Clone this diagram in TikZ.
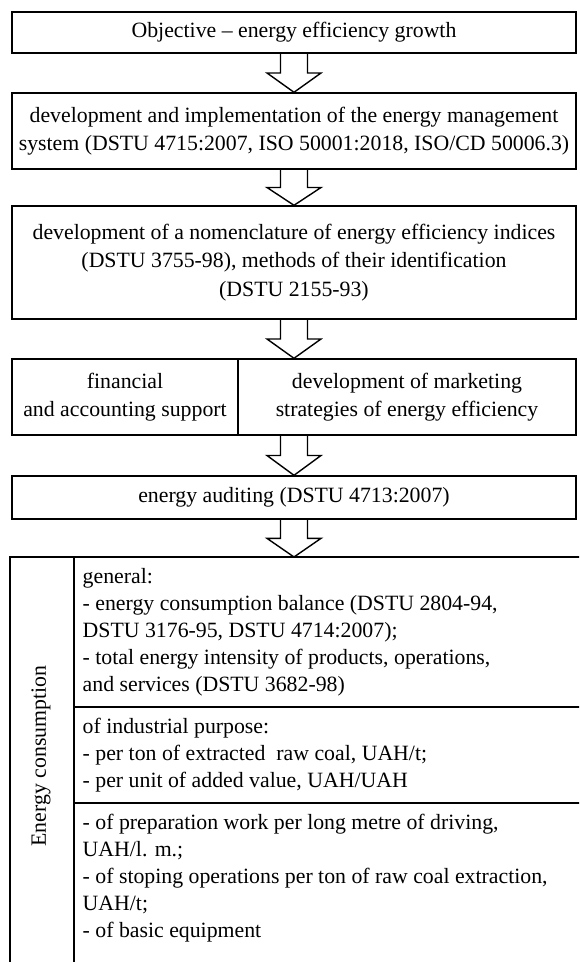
\documentclass[tikz,border=0pt]{standalone}
\usepackage{fontspec}
\setmainfont{Liberation Serif}
\usetikzlibrary{calc}

% hollow block arrow from one anchor down to another
\newcommand{\blockarrow}[2]{%
  \draw let \p1=(#1), \p2=(#2), \n1={0.5*(\y1+\y2)} in
    (\x1-6.75pt,\y1) -- (\x1-6.75pt,\n1) -- (\x1-13.5pt,\n1) -- (\x2,\y2)
    -- (\x1+13.5pt,\n1) -- (\x1+6.75pt,\n1) -- (\x1+6.75pt,\y1);}

\begin{document}
\begin{tikzpicture}[x=0.5pt, y=-0.5pt, line width=0.7pt,
    stage/.style={draw, minimum width=282pt, align=center, inner sep=2pt,
      font=\fontsize{10.9}{14.2}\selectfont},
    item/.style={align=left, inner sep=0pt, anchor=west,
      font=\fontsize{10.9}{13.5}\selectfont}]
  \useasboundingbox (0,0) rectangle (579,962);
  \clip (0,0) rectangle (579,962);

  \node[stage, minimum height=20.5pt] (goal) at (294,32.5) {Objective -- energy efficiency growth};
  \node[stage, minimum height=38pt] (ems) at (294,131) {development and implementation of the energy management\\system (DSTU 4715:2007, ISO 50001:2018, ISO/CD 50006.3)};
  \node[stage, minimum height=56.5pt] (index) at (294,262.5) {development of a nomenclature of energy efficiency indices\\(DSTU 3755-98), methods of their identification\\(DSTU 2155-93)};
  \node[stage, minimum width=113pt, minimum height=38pt] (fin) at (125,397) {financial\\and accounting support};
  \node[stage, minimum width=169pt, minimum height=38pt] (market) at (407,397) {development of marketing\\strategies of energy efficiency};
  \node[stage, minimum height=21.5pt] (audit) at (294,497.5) {energy auditing (DSTU 4713:2007)};
  \coordinate (table) at (294,557);

  \blockarrow{goal.south}{ems.north}
  \blockarrow{ems.south}{index.north}
  \blockarrow{index.south}{index.south |- market.north}
  \blockarrow{index.south |- market.south}{audit.north}
  \blockarrow{audit.south}{table}

  % table of indices
  \draw (600,557) -- (10,557) -- (10,990);
  \draw (74,557) -- (74,990);
  \draw (74,707) -- (600,707);
  \draw (74,803) -- (600,803);

  \node[rotate=90, font=\fontsize{10.9}{13.5}\selectfont] (cons) at (41,756) {Energy consumption};
  \node[item] (general) at (82,632) {general:\\- energy consumption balance (DSTU 2804-94,\\DSTU 3176-95, DSTU 4714:2007);\\- total energy intensity of products, operations,\\and services (DSTU 3682-98)};
  \node[item] (industry) at (82,755) {of industrial purpose:\\- per ton of extracted\ \ raw coal, UAH/t;\\- per unit of added value, UAH/UAH};
  \node[item] (works) at (82,878) {- of preparation work per long metre of driving,\\UAH/l. m.;\\- of stoping operations per ton of raw coal extraction,\\UAH/t;\\- of basic equipment};
\end{tikzpicture}
\end{document}
